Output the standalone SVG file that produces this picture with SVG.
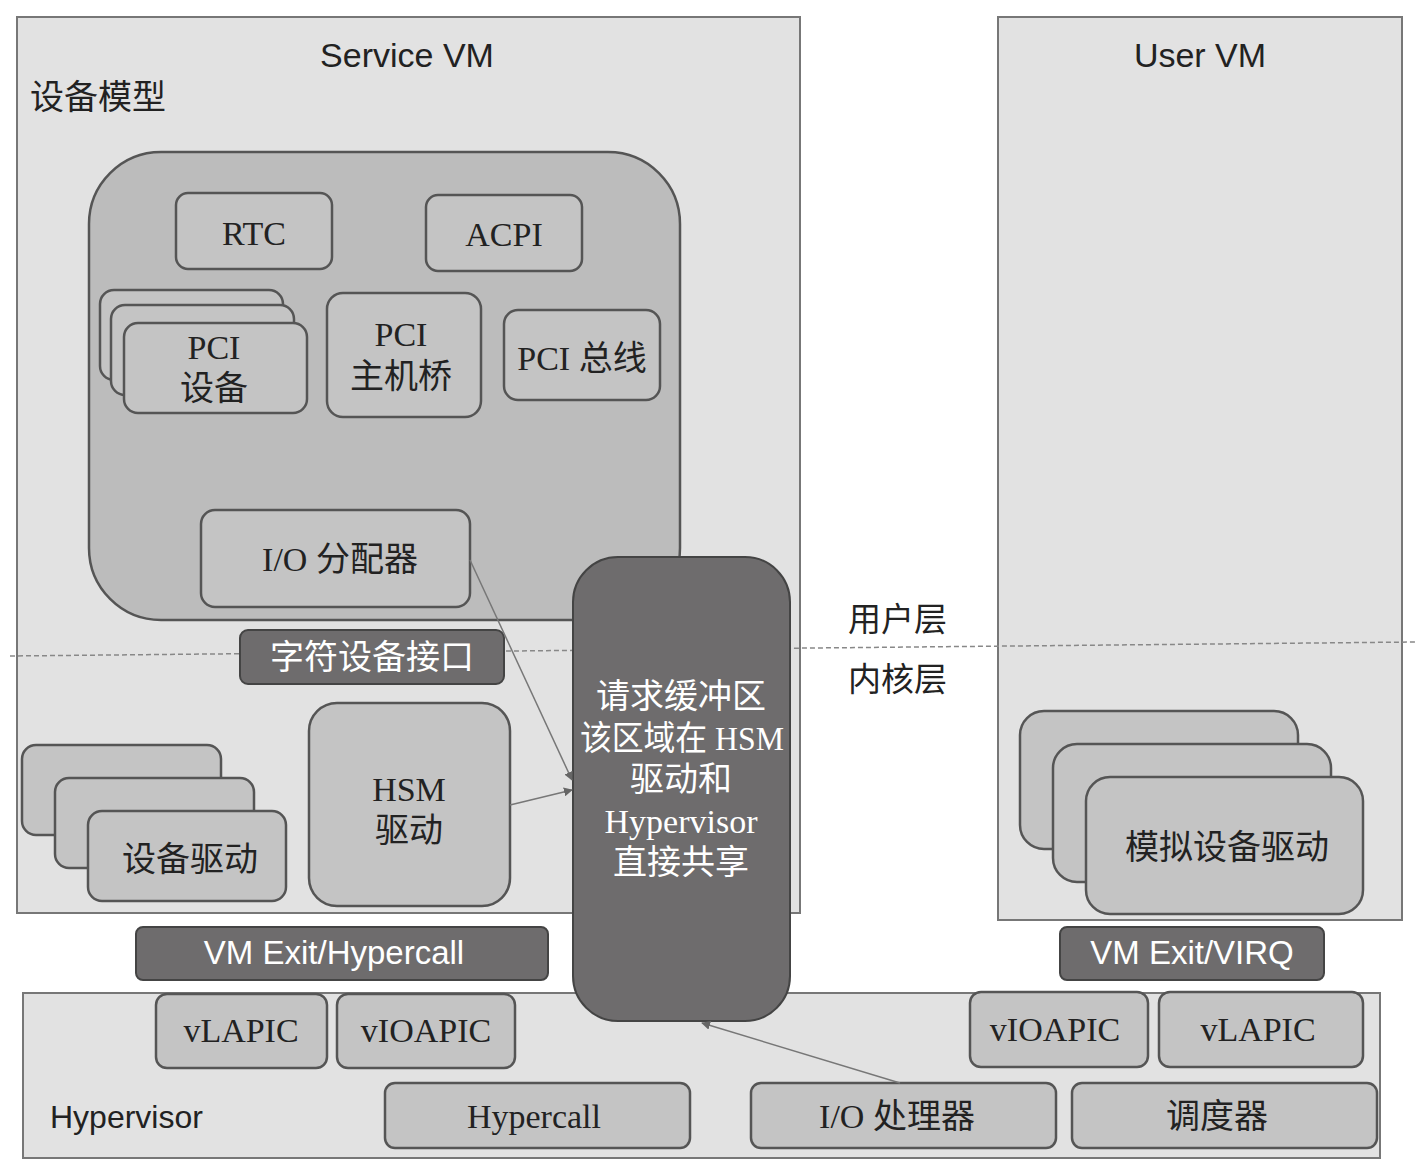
<svg xmlns="http://www.w3.org/2000/svg" width="1415" height="1168" viewBox="0 0 1415 1168">
<defs>
<marker id="ah" viewBox="0 0 10 10" refX="9" refY="5" markerWidth="9" markerHeight="9" markerUnits="userSpaceOnUse" orient="auto"><path d="M0,0 L10,5 L0,10 z" fill="#666"/></marker>
<style>
.vm{fill:#e2e2e2;stroke:#777;stroke-width:2}
.dm{fill:#bcbcbc;stroke:#555;stroke-width:2.5}
.bx{fill:#c4c4c4;stroke:#555;stroke-width:2.5}
.dk{fill:#6e6c6d;stroke:#444;stroke-width:2}
.sf{font-family:"Liberation Serif","Noto Sans CJK SC",serif;font-size:34px;fill:#222;text-anchor:middle}
.ss{font-family:"Liberation Sans","Noto Sans CJK SC",sans-serif;font-size:34px;fill:#222}
.wt{font-family:"Liberation Sans","Noto Sans CJK SC",sans-serif;font-size:33px;fill:#fff;text-anchor:middle}
.ws{font-family:"Liberation Serif","Noto Sans CJK SC",serif;font-size:34px;fill:#fff;text-anchor:middle}
.cn{font-family:"Noto Sans CJK SC",sans-serif;font-size:33px;fill:#222}
</style>
</defs>
<rect width="1415" height="1168" fill="#fff"/>
<g id="service-vm"><rect class="vm" x="17" y="17" width="783" height="896"/><text class="ss" x="407" y="67" text-anchor="middle">Service VM</text><text class="cn" x="30" y="109" style="font-size:34px">设备模型</text></g>
<g id="user-vm"><rect class="vm" x="998" y="17" width="404" height="903"/><text class="ss" x="1200" y="67" text-anchor="middle">User VM</text></g>
<g id="hypervisor"><rect class="vm" x="23" y="993" width="1357" height="165"/><text class="ss" x="50" y="1128" style="font-size:32px">Hypervisor</text></g>
<g id="device-model"><rect class="dm" x="89" y="152" width="591" height="468" rx="72"/></g>
<g id="rtc"><rect class="bx" x="176" y="193" width="156" height="76" rx="12"/><text class="sf" x="254" y="245">RTC</text></g>
<g id="acpi"><rect class="bx" x="426" y="195" width="156" height="76" rx="12"/><text class="sf" x="504" y="246">ACPI</text></g>
<g id="pci-dev"><rect class="bx" x="100" y="290" width="183" height="90" rx="14"/><rect class="bx" x="111" y="305" width="183" height="90" rx="14"/><rect class="bx" x="124" y="323" width="183" height="90" rx="14"/><text class="sf" x="214" y="359">PCI</text><text class="sf" x="214" y="400">设备</text></g>
<g id="pci-host"><rect class="bx" x="327" y="293" width="154" height="124" rx="16"/><text class="sf" x="401" y="346">PCI</text><text class="sf" x="401" y="388">主机桥</text></g>
<g id="pci-bus"><rect class="bx" x="504" y="310" width="156" height="90" rx="14"/><text class="sf" x="582" y="370">PCI 总线</text></g>
<g id="io-dist"><rect class="bx" x="201" y="510" width="269" height="97" rx="14"/><text class="sf" x="340" y="571">I/O 分配器</text></g>
<line x1="10" y1="656" x2="1415" y2="642" stroke="#888" stroke-width="1.5" stroke-dasharray="5,3"/>
<g id="char-dev"><rect class="dk" x="240" y="630" width="264" height="54" rx="8"/><text class="wt" x="372" y="669" style="font-size:34px">字符设备接口</text></g>
<g id="hsm"><rect class="bx" x="309" y="703" width="201" height="203" rx="28"/><text class="sf" x="409" y="801">HSM</text><text class="sf" x="409" y="842">驱动</text></g>
<g id="dev-drv"><rect class="bx" x="22" y="745" width="199" height="90" rx="14"/><rect class="bx" x="55" y="778" width="199" height="90" rx="14"/><rect class="bx" x="88" y="811" width="198" height="90" rx="14"/><text class="sf" x="190" y="871">设备驱动</text></g>
<g id="req-buf"><rect class="dk" x="573" y="557" width="217" height="464" rx="45"/><text class="ws" x="681" y="708">请求缓冲区</text><text class="ws" x="682" y="750" textLength="204" lengthAdjust="spacingAndGlyphs">该区域在 HSM</text><text class="ws" x="681" y="791">驱动和</text><text class="ws" x="681" y="833">Hypervisor</text><text class="ws" x="681" y="874">直接共享</text></g>
<g id="layers"><text class="cn" x="848" y="631">用户层</text><text class="cn" x="848" y="691">内核层</text></g>
<g id="emu-drv"><rect class="bx" x="1020" y="711" width="278" height="138" rx="24"/><rect class="bx" x="1053" y="744" width="278" height="138" rx="24"/><rect class="bx" x="1086" y="777" width="277" height="137" rx="24"/><text class="sf" x="1227" y="859">模拟设备驱动</text></g>
<g id="vmexit-hc"><rect class="dk" x="136" y="927" width="412" height="53" rx="7"/><text class="wt" x="334" y="964">VM Exit/Hypercall</text></g>
<g id="vmexit-virq"><rect class="dk" x="1060" y="927" width="264" height="53" rx="7"/><text class="wt" x="1192" y="964">VM Exit/VIRQ</text></g>
<g id="vlapic1"><rect class="bx" x="156" y="994" width="171" height="74" rx="11"/><text class="sf" x="241" y="1042">vLAPIC</text></g>
<g id="vioapic1"><rect class="bx" x="337" y="994" width="178" height="74" rx="11"/><text class="sf" x="426" y="1042">vIOAPIC</text></g>
<g id="vioapic2"><rect class="bx" x="970" y="992" width="178" height="75" rx="11"/><text class="sf" x="1055" y="1041">vIOAPIC</text></g>
<g id="vlapic2"><rect class="bx" x="1159" y="992" width="204" height="75" rx="11"/><text class="sf" x="1258" y="1041">vLAPIC</text></g>
<g id="hypercall"><rect class="bx" x="385" y="1083" width="305" height="65" rx="10"/><text class="sf" x="534" y="1128">Hypercall</text></g>
<g id="io-handler"><rect class="bx" x="751" y="1083" width="305" height="65" rx="10"/><text class="sf" x="897" y="1128">I/O 处理器</text></g>
<g id="scheduler"><rect class="bx" x="1072" y="1083" width="305" height="65" rx="10"/><text class="sf" x="1217" y="1128">调度器</text></g>
<g id="connectors" stroke="#777" stroke-width="1.5" fill="none">
<line x1="470" y1="560" x2="572" y2="780" marker-end="url(#ah)"/>
<line x1="510" y1="805" x2="572" y2="790" marker-end="url(#ah)"/>
<line x1="900" y1="1083" x2="702" y2="1023" marker-end="url(#ah)"/>
</g>
</svg>
